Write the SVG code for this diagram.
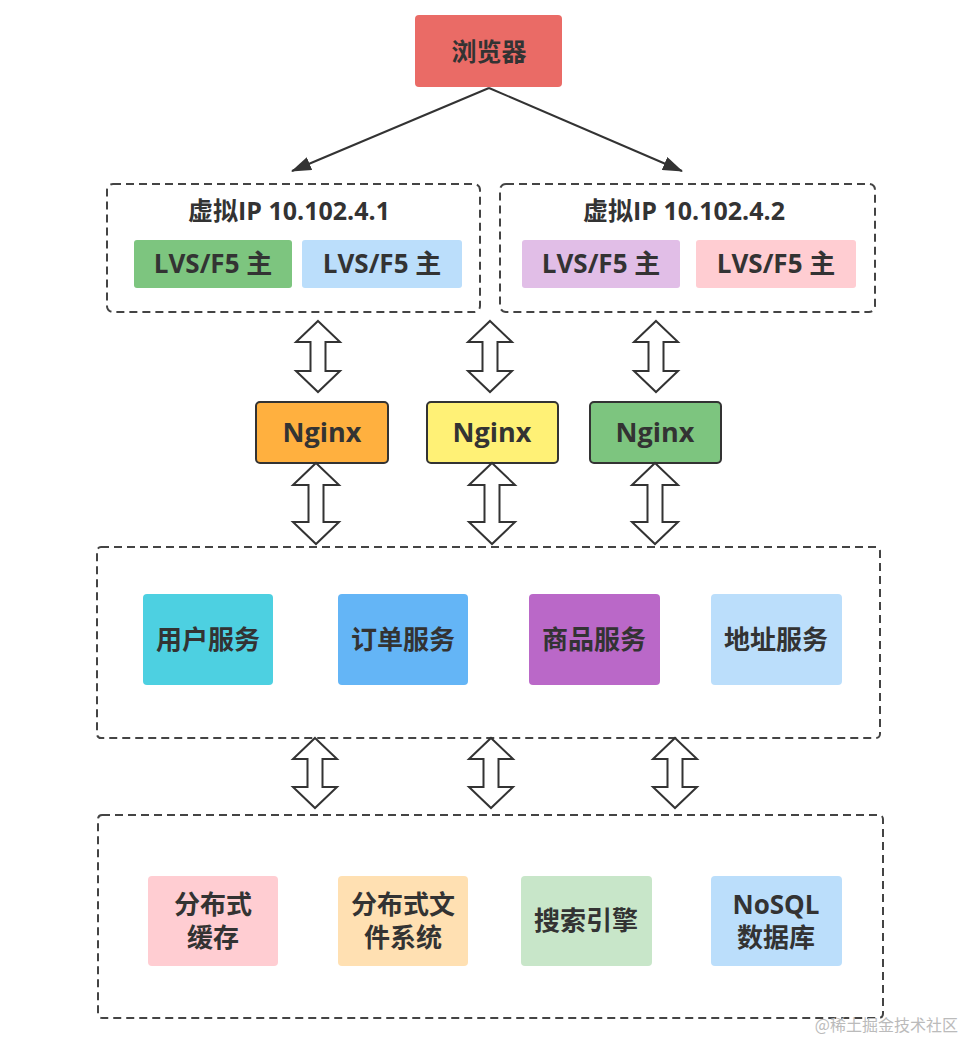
<svg xmlns="http://www.w3.org/2000/svg" width="962" height="1045" viewBox="0 0 962 1045">
<defs>
<style>
.t{font-family:"Open Sans","Noto Sans CJK SC",sans-serif;font-weight:bold;fill:#333;text-anchor:middle;dominant-baseline:central}
.dash{fill:none;stroke:#444;stroke-width:2;stroke-dasharray:8 5}
.dbl{fill:#fff;stroke:#333;stroke-width:2;stroke-linejoin:miter}
.line{stroke:#333;stroke-width:2;fill:none}
</style>
<marker id="ah2" viewBox="0 0 20 14" refX="19" refY="7" markerWidth="20" markerHeight="14" markerUnits="userSpaceOnUse" orient="auto">
<path d="M0,0 L20,7 L0,14 Z" fill="#333"/>
</marker>
</defs>
<rect width="962" height="1045" fill="#fff"/>

<g id="browser">
<rect x="415" y="15" width="147" height="72" rx="4" fill="#EA6B66"/>
<text class="t" x="489" y="51" font-size="25">浏览器</text>
</g>

<g id="vip1">
<rect class="dash" x="107" y="184" width="373" height="128" rx="6"/>
<text class="t" x="289" y="210" font-size="25">虚拟IP 10.102.4.1</text>
<rect x="134" y="240" width="158" height="48" rx="3" fill="#7DC57F"/>
<text class="t" x="213" y="263" font-size="26">LVS/F5 主</text>
<rect x="302" y="240" width="160" height="48" rx="3" fill="#BBDEFB"/>
<text class="t" x="382" y="263" font-size="26">LVS/F5 主</text>
</g>

<g id="vip2">
<rect class="dash" x="500" y="184" width="375" height="128" rx="6"/>
<text class="t" x="684" y="210" font-size="25">虚拟IP 10.102.4.2</text>
<rect x="522" y="240" width="158" height="48" rx="3" fill="#E1BEE7"/>
<text class="t" x="601" y="263" font-size="26">LVS/F5 主</text>
<rect x="696" y="240" width="160" height="48" rx="3" fill="#FFCDD2"/>
<text class="t" x="776" y="263" font-size="26">LVS/F5 主</text>
</g>

<g id="nginx1">
<rect x="256" y="402" width="132" height="61" rx="4" fill="#FFB03F" stroke="#333" stroke-width="2"/>
<text class="t" x="322" y="431" font-size="27">Nginx</text>
</g>
<g id="nginx2">
<rect x="427" y="402" width="131" height="61" rx="4" fill="#FFF176" stroke="#333" stroke-width="2"/>
<text class="t" x="492" y="431" font-size="27">Nginx</text>
</g>
<g id="nginx3">
<rect x="590" y="402" width="131" height="61" rx="4" fill="#7DC57F" stroke="#333" stroke-width="2"/>
<text class="t" x="655" y="431" font-size="27">Nginx</text>
</g>

<g id="services">
<rect class="dash" x="97" y="547" width="783" height="191" rx="4"/>
<g id="svc-user">
<rect x="143" y="594" width="130" height="91" rx="4" fill="#4DD0E1"/>
<text class="t" x="208" y="639" font-size="26">用户服务</text>
</g>
<g id="svc-order">
<rect x="338" y="594" width="130" height="91" rx="4" fill="#64B5F6"/>
<text class="t" x="403" y="639" font-size="26">订单服务</text>
</g>
<g id="svc-goods">
<rect x="529" y="594" width="131" height="91" rx="4" fill="#BA68C8"/>
<text class="t" x="594" y="639" font-size="26">商品服务</text>
</g>
<g id="svc-addr">
<rect x="711" y="594" width="131" height="91" rx="4" fill="#BBDEFB"/>
<text class="t" x="776" y="639" font-size="26">地址服务</text>
</g>
</g>

<g id="infra">
<rect class="dash" x="98" y="815" width="785" height="203" rx="4"/>
<g id="cache">
<rect x="148" y="876" width="130" height="90" rx="4" fill="#FFCDD2"/>
<text class="t" x="213" y="904" font-size="26">分布式</text>
<text class="t" x="213" y="937" font-size="26">缓存</text>
</g>
<g id="dfs">
<rect x="338" y="876" width="130" height="90" rx="4" fill="#FFE0B2"/>
<text class="t" x="403" y="904" font-size="26">分布式文</text>
<text class="t" x="403" y="937" font-size="26">件系统</text>
</g>
<g id="search">
<rect x="521" y="876" width="131" height="90" rx="4" fill="#C8E6C9"/>
<text class="t" x="586" y="920" font-size="26">搜索引擎</text>
</g>
<g id="nosql">
<rect x="711" y="876" width="131" height="90" rx="4" fill="#BBDEFB"/>
<text class="t" x="776" y="904" font-size="26">NoSQL</text>
<text class="t" x="776" y="937" font-size="26">数据库</text>
</g>
</g>

<g id="connectors">
<line class="line" x1="489" y1="88" x2="292" y2="171" marker-end="url(#ah2)"/>
<line class="line" x1="489" y1="88" x2="682" y2="171" marker-end="url(#ah2)"/>
<path class="dbl" d="M318,321 L340,342 L325.5,342 L325.5,371 L340,371 L318,392 L296,371 L310.5,371 L310.5,342 L296,342 Z"/>
<path class="dbl" d="M490,321 L512,342 L497.5,342 L497.5,371 L512,371 L490,392 L468,371 L482.5,371 L482.5,342 L468,342 Z"/>
<path class="dbl" d="M656,321 L678,342 L663.5,342 L663.5,371 L678,371 L656,392 L634,371 L648.5,371 L648.5,342 L634,342 Z"/>
<path class="dbl" d="M316,463 L339,485 L323.5,485 L323.5,522 L339,522 L316,544 L293,522 L308.5,522 L308.5,485 L293,485 Z"/>
<path class="dbl" d="M492,463 L515,485 L499.5,485 L499.5,522 L515,522 L492,544 L469,522 L484.5,522 L484.5,485 L469,485 Z"/>
<path class="dbl" d="M655,463 L678,485 L662.5,485 L662.5,522 L678,522 L655,544 L632,522 L647.5,522 L647.5,485 L632,485 Z"/>
<path class="dbl" d="M315,738 L337,759 L322.5,759 L322.5,787 L337,787 L315,808 L293,787 L307.5,787 L307.5,759 L293,759 Z"/>
<path class="dbl" d="M491,738 L513,759 L498.5,759 L498.5,787 L513,787 L491,808 L469,787 L483.5,787 L483.5,759 L469,759 Z"/>
<path class="dbl" d="M675,738 L697,759 L682.5,759 L682.5,787 L697,787 L675,808 L653,787 L667.5,787 L667.5,759 L653,759 Z"/>
</g>

<text x="958" y="1031" font-family="Noto Sans CJK SC, sans-serif" font-size="16" fill="#bbb" text-anchor="end">@稀土掘金技术社区</text>
</svg>
